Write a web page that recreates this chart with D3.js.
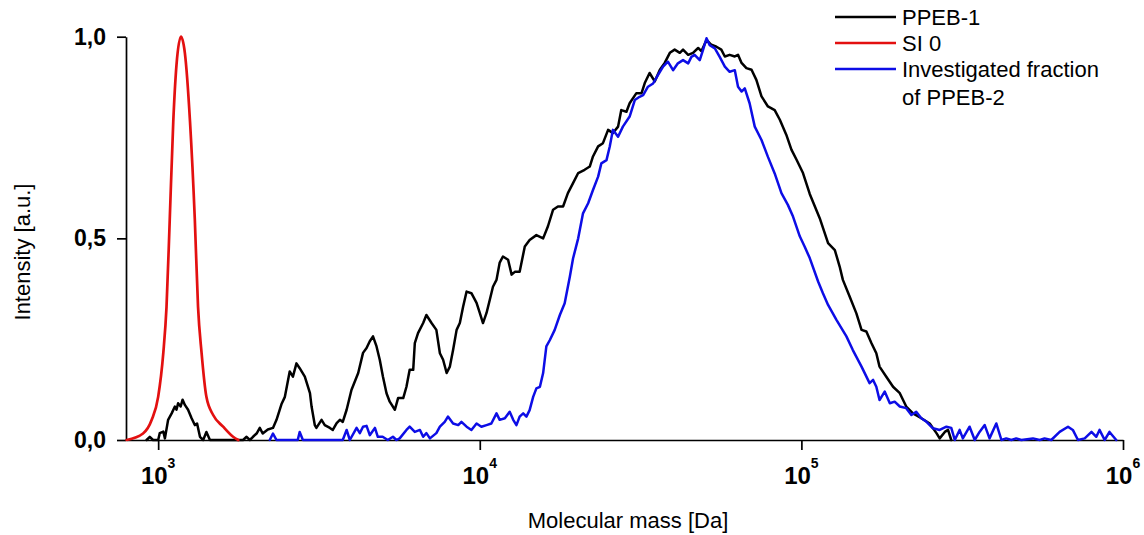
<!DOCTYPE html>
<html>
<head>
<meta charset="utf-8">
<script src="https://cdn.jsdelivr.net/npm/d3@7"></script>
<style>
  html, body { margin: 0; padding: 0; background: #fff; }
  svg { display: block; font-family: "Liberation Sans", Arial, sans-serif; }
</style>
</head>
<body>
<script>
// Axis ticks
const xTickExps = [3, 4, 5, 6];
const yTickValues = [0, 0.5, 1];
const yTickLabels = ["0,0", "0,5", "1,0"];

// Legend entries (the last entry wraps onto two lines)
const legendLabels = [["PPEB-1"], ["SI 0"], ["Investigated fraction", "of PPEB-2"]];
const seriesColors = ["#000000", "#e31010", "#0d0de6"];

// PPEB-1: log10(molecular mass) and normalised intensity
const ppeb1LogM = [2.964, 2.974, 2.984, 3.000, 3.005, 3.016, 3.021, 3.031, 3.042, 3.052, 3.057, 3.062, 3.070, 3.076, 3.083, 3.093, 3.104, 3.114, 3.121, 3.130, 3.140, 3.150, 3.161, 3.264, 3.275, 3.285, 3.295, 3.306, 3.316, 3.325, 3.341, 3.357, 3.368, 3.384, 3.394, 3.409, 3.419, 3.430, 3.440, 3.456, 3.472, 3.477, 3.487, 3.492, 3.508, 3.518, 3.534, 3.543, 3.555, 3.565, 3.574, 3.586, 3.601, 3.622, 3.637, 3.648, 3.658, 3.668, 3.679, 3.689, 3.699, 3.710, 3.720, 3.736, 3.746, 3.762, 3.772, 3.782, 3.793, 3.798, 3.808, 3.824, 3.834, 3.850, 3.865, 3.876, 3.886, 3.897, 3.907, 3.917, 3.928, 3.938, 3.948, 3.959, 3.974, 3.990, 4.000, 4.010, 4.021, 4.031, 4.041, 4.052, 4.062, 4.072, 4.088, 4.099, 4.109, 4.124, 4.140, 4.155, 4.176, 4.197, 4.212, 4.228, 4.243, 4.259, 4.274, 4.290, 4.306, 4.326, 4.342, 4.352, 4.368, 4.383, 4.399, 4.414, 4.430, 4.440, 4.456, 4.466, 4.487, 4.503, 4.513, 4.528, 4.544, 4.560, 4.575, 4.591, 4.606, 4.622, 4.632, 4.648, 4.663, 4.679, 4.689, 4.705, 4.720, 4.736, 4.751, 4.762, 4.777, 4.793, 4.803, 4.814, 4.829, 4.845, 4.860, 4.876, 4.896, 4.917, 4.933, 4.953, 4.969, 4.985, 5.005, 5.026, 5.057, 5.083, 5.104, 5.119, 5.129, 5.150, 5.171, 5.187, 5.202, 5.218, 5.233, 5.243, 5.264, 5.285, 5.306, 5.326, 5.347, 5.373, 5.399, 5.420, 5.430, 5.446, 5.456, 5.466];
const ppeb1Int = [0, 0.008, 0, 0, 0.017, 0.021, 0.004, 0.05, 0.066, 0.083, 0.075, 0.091, 0.083, 0.1, 0.087, 0.075, 0.054, 0.037, 0.041, 0.008, 0, 0.02, 0, 0, 0.008, 0, 0.008, 0.016, 0.03, 0.016, 0.026, 0.03, 0.05, 0.09, 0.107, 0.17, 0.157, 0.19, 0.178, 0.157, 0.116, 0.083, 0.037, 0.03, 0.05, 0.037, 0.03, 0.025, 0.042, 0.05, 0.045, 0.075, 0.124, 0.166, 0.216, 0.228, 0.245, 0.257, 0.232, 0.199, 0.157, 0.116, 0.095, 0.075, 0.104, 0.104, 0.132, 0.174, 0.174, 0.24, 0.265, 0.29, 0.31, 0.29, 0.273, 0.215, 0.199, 0.166, 0.182, 0.223, 0.273, 0.29, 0.33, 0.368, 0.364, 0.34, 0.315, 0.29, 0.315, 0.347, 0.38, 0.397, 0.44, 0.455, 0.447, 0.41, 0.417, 0.417, 0.48, 0.496, 0.508, 0.5, 0.53, 0.571, 0.579, 0.579, 0.612, 0.637, 0.662, 0.67, 0.678, 0.703, 0.728, 0.736, 0.769, 0.761, 0.777, 0.818, 0.814, 0.835, 0.86, 0.86, 0.885, 0.91, 0.889, 0.918, 0.935, 0.96, 0.968, 0.96, 0.968, 0.955, 0.96, 0.972, 0.964, 0.992, 0.98, 0.975, 0.968, 0.951, 0.955, 0.951, 0.955, 0.935, 0.922, 0.918, 0.893, 0.852, 0.827, 0.818, 0.794, 0.757, 0.72, 0.695, 0.662, 0.61, 0.55, 0.488, 0.471, 0.43, 0.397, 0.356, 0.314, 0.273, 0.269, 0.24, 0.215, 0.182, 0.157, 0.132, 0.116, 0.083, 0.066, 0.054, 0.041, 0.017, 0.004, 0.02, 0.025, 0];

// SI 0 standard
const si0LogM = [2.902, 2.953, 2.980, 3.000, 3.016, 3.026, 3.036, 3.047, 3.057, 3.071, 3.083, 3.099, 3.114, 3.124, 3.135, 3.150, 3.171, 3.202, 3.233, 3.249];
const si0Int = [0, 0.016, 0.05, 0.107, 0.216, 0.33, 0.546, 0.79, 0.93, 1.0, 0.96, 0.79, 0.546, 0.33, 0.216, 0.107, 0.062, 0.033, 0.008, 0];

// Investigated fraction of PPEB-2
const fracLogM = [3.347, 3.357, 3.368, 3.434, 3.440, 3.450, 3.574, 3.586, 3.596, 3.617, 3.627, 3.637, 3.648, 3.658, 3.674, 3.683, 3.698, 3.714, 3.730, 3.741, 3.751, 3.772, 3.782, 3.798, 3.814, 3.824, 3.834, 3.845, 3.865, 3.876, 3.891, 3.901, 3.917, 3.933, 3.943, 3.959, 3.974, 3.990, 4.005, 4.021, 4.036, 4.052, 4.062, 4.078, 4.093, 4.104, 4.114, 4.124, 4.135, 4.145, 4.155, 4.166, 4.176, 4.187, 4.197, 4.207, 4.218, 4.233, 4.249, 4.264, 4.280, 4.290, 4.306, 4.321, 4.337, 4.352, 4.368, 4.378, 4.394, 4.404, 4.414, 4.430, 4.445, 4.466, 4.482, 4.497, 4.508, 4.523, 4.539, 4.554, 4.570, 4.585, 4.601, 4.616, 4.632, 4.648, 4.658, 4.668, 4.684, 4.694, 4.705, 4.715, 4.731, 4.746, 4.762, 4.777, 4.793, 4.803, 4.814, 4.824, 4.839, 4.855, 4.876, 4.896, 4.917, 4.938, 4.958, 4.974, 4.995, 5.010, 5.026, 5.052, 5.067, 5.083, 5.109, 5.140, 5.160, 5.187, 5.212, 5.223, 5.233, 5.243, 5.259, 5.275, 5.290, 5.306, 5.326, 5.342, 5.357, 5.373, 5.389, 5.409, 5.430, 5.451, 5.466, 5.477, 5.492, 5.502, 5.523, 5.539, 5.554, 5.570, 5.585, 5.606, 5.622, 5.637, 5.653, 5.668, 5.684, 5.720, 5.741, 5.756, 5.777, 5.803, 5.829, 5.844, 5.860, 5.881, 5.902, 5.917, 5.927, 5.943, 5.958, 5.979];
const fracInt = [0, 0.016, 0, 0, 0.02, 0, 0, 0.025, 0, 0.03, 0.017, 0.033, 0.035, 0.012, 0.03, 0.008, 0.008, 0, 0.008, 0, 0.004, 0.025, 0.033, 0.02, 0.025, 0.008, 0.017, 0.004, 0.017, 0.033, 0.045, 0.058, 0.041, 0.037, 0.045, 0.033, 0.025, 0.041, 0.033, 0.037, 0.041, 0.066, 0.05, 0.054, 0.07, 0.05, 0.037, 0.058, 0.066, 0.058, 0.074, 0.107, 0.128, 0.132, 0.166, 0.232, 0.248, 0.273, 0.31, 0.339, 0.405, 0.45, 0.5, 0.562, 0.587, 0.62, 0.653, 0.686, 0.694, 0.727, 0.769, 0.752, 0.777, 0.802, 0.843, 0.851, 0.855, 0.876, 0.884, 0.905, 0.926, 0.938, 0.917, 0.934, 0.942, 0.934, 0.95, 0.955, 0.942, 0.967, 0.996, 0.979, 0.971, 0.95, 0.926, 0.913, 0.917, 0.876, 0.864, 0.872, 0.835, 0.777, 0.744, 0.702, 0.661, 0.612, 0.583, 0.554, 0.505, 0.48, 0.451, 0.393, 0.364, 0.335, 0.298, 0.257, 0.223, 0.182, 0.141, 0.149, 0.132, 0.099, 0.12, 0.091, 0.095, 0.083, 0.079, 0.062, 0.07, 0.054, 0.045, 0.029, 0.025, 0.033, 0.03, 0, 0.025, 0.004, 0.033, 0, 0.02, 0.037, 0.004, 0.041, 0, 0.004, 0, 0.004, 0, 0.004, 0, 0.004, 0, 0.02, 0.033, 0.025, 0, 0.004, 0.02, 0.008, 0.025, 0, 0.02, 0];

const W = 1144, H = 535;
const svg = d3.select("body").append("svg").attr("width", W).attr("height", H);

const x = d3.scaleLog().domain([Math.pow(10, 2.9), 1e6]).range([126, 1123]);
const y = d3.scaleLinear().domain([0, 1]).range([440, 36.7]);

// X axis (decades)
const gx = svg.append("g")
  .attr("transform", `translate(0,${y(0)})`)
  .call(d3.axisBottom(x)
    .tickValues(xTickExps.map(e => Math.pow(10, e)))
    .tickSize(10).tickSizeOuter(0).tickFormat(""));
gx.selectAll("path, line").attr("stroke", "#000").attr("stroke-width", 1.7);

const xLabels = svg.append("g").attr("font-weight", "bold").attr("fill", "#000");
xTickExps.forEach(e => {
  const t = xLabels.append("text")
    .attr("x", x(Math.pow(10, e)))
    .attr("y", 484)
    .attr("text-anchor", "middle")
    .attr("font-size", 24);
  t.append("tspan").text("10");
  t.append("tspan").attr("dy", -16).attr("font-size", 14).text(String(e));
});

// Y axis
const gy = svg.append("g")
  .attr("transform", `translate(${x.range()[0]},0)`)
  .call(d3.axisLeft(y)
    .tickValues(yTickValues)
    .tickSize(9).tickPadding(11).tickSizeOuter(0)
    .tickFormat((d, i) => yTickLabels[i]));
gy.selectAll("path, line").attr("stroke", "#000").attr("stroke-width", 1.7);
gy.selectAll("text")
  .attr("font-size", 23).attr("font-weight", "bold")
  .attr("font-family", "'Liberation Sans', Arial, sans-serif")
  .attr("fill", "#000");

// Axis titles
svg.append("text")
  .attr("x", 628).attr("y", 528)
  .attr("text-anchor", "middle")
  .attr("font-size", 22)
  .text("Molecular mass [Da]");

svg.append("text")
  .attr("transform", "translate(30,252) rotate(-90)")
  .attr("text-anchor", "middle")
  .attr("font-size", 22)
  .text("Intensity [a.u.]");

// Curves
const line = d3.line()
  .x(d => x(Math.pow(10, d[0])))
  .y(d => y(d[1]));

const ppeb1 = d3.zip(ppeb1LogM, ppeb1Int);
const si0 = d3.zip(si0LogM, si0Int);
const frac = d3.zip(fracLogM, fracInt);

const plot = svg.append("g").attr("fill", "none")
  .attr("stroke-linejoin", "round").attr("stroke-linecap", "round");

plot.append("path").datum(ppeb1)
  .attr("d", line).attr("stroke", seriesColors[0]).attr("stroke-width", 2.5);

plot.append("path").datum(si0)
  .attr("d", line.curve(d3.curveMonotoneX)).attr("stroke", seriesColors[1]).attr("stroke-width", 2.7);
line.curve(d3.curveLinear);

plot.append("path").datum(frac)
  .attr("d", line).attr("stroke", seriesColors[2]).attr("stroke-width", 2.5);

// Legend
const legend = svg.append("g").attr("font-size", 22).attr("fill", "#000");
const rowY = [17, 43, 69];
const lineStep = 28;
legendLabels.forEach((lines, i) => {
  legend.append("line")
    .attr("x1", 835).attr("x2", 896)
    .attr("y1", rowY[i]).attr("y2", rowY[i])
    .attr("stroke", seriesColors[i]).attr("stroke-width", 2.5);
  lines.forEach((txt, j) => {
    legend.append("text")
      .attr("x", 902)
      .attr("y", rowY[i] + j * lineStep)
      .attr("dy", "0.36em")
      .text(txt);
  });
});
</script>
</body>
</html>
